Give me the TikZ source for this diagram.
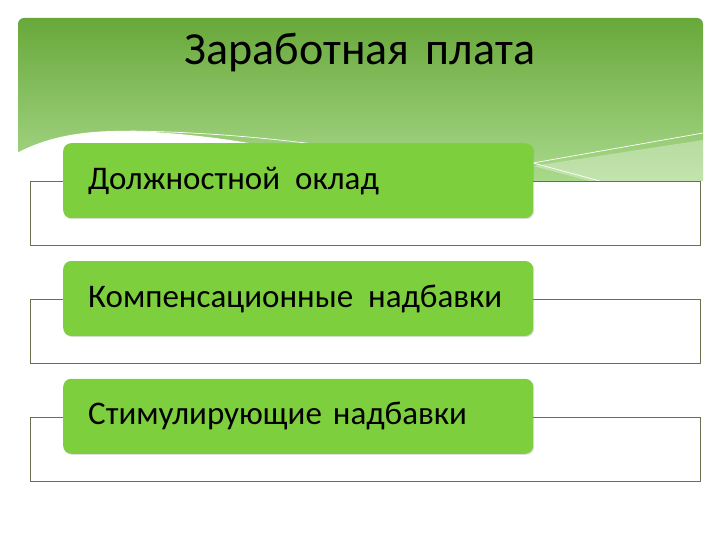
\documentclass[tikz,border=0pt]{standalone}
\usepackage{fontspec}
\setmainfont{Carlito}
\usetikzlibrary{positioning, shadows}

\definecolor{hdrtop}{HTML}{68A83A}
\definecolor{hdrbot}{HTML}{A9D98C}
\definecolor{boxgreen}{HTML}{7DCF3D}
\definecolor{framegray}{HTML}{6E6E4E}

\begin{document}
\begin{tikzpicture}[x=1pt, y=-1pt,
        frame/.style={draw=framegray, line width=0.8pt, minimum width=670pt, minimum height=64pt, inner sep=0pt},
        item/.style={fill=boxgreen, rounded corners=8pt, anchor=north west, minimum height=75pt, text width=420pt, inner xsep=25pt, align=left, font=\fontsize{33}{36}\selectfont,
            drop shadow={opacity=0.25, shadow xshift=1pt, shadow yshift=-1pt}}]
        \useasboundingbox (0,0) rectangle (720,540);

        % Header
        \shade[top color=hdrtop, bottom color=hdrbot] (18,181) [rounded corners=6pt] -- (18,18) -- (703,18) [sharp corners] -- (703,181) -- cycle;
        \fill[white, opacity=0.3] (533,166) -- (703,140) -- (703,181) -- (590,181) -- cycle;
        \fill[white] (17,153) .. controls (45,138) and (80,130) .. (130,131) .. controls (220,134) and (300,150) .. (420,182) -- (17,182) -- cycle;
        \draw[white, line width=0.7pt] (130,131) .. controls (200,132) and (260,137) .. (330,146);
        \draw[white, line width=0.7pt] (703,133) -- (533,163) -- (600,181);
        \node[font=\fontsize{46}{50}\selectfont] (title) at (360,53) {Заработная\hspace{6pt} плата};

        % Nodes
        \node[frame, anchor=north west] (fr1) at (30,181) {};
        \node[frame, below=53pt of fr1] (fr2) {};
        \node[frame, below=53pt of fr2] (fr3) {};

        \node[item] (oklad) at ([shift={(33,-38)}]fr1.north west) {Должностной\hspace{4pt} оклад};
        \node[item] (komp) at ([shift={(33,-38)}]fr2.north west) {Компенсационные\hspace{4pt} надбавки};
        \node[item] (stim) at ([shift={(33,-38)}]fr3.north west) {Стимулирующие надбавки};
    \end{tikzpicture}
\end{document}
